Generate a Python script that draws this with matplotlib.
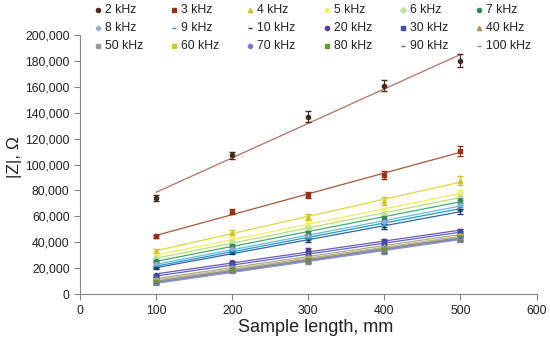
import numpy as np
import matplotlib
matplotlib.use("Agg")
import matplotlib.pyplot as plt
from matplotlib.ticker import FuncFormatter, MultipleLocator

plt.rcParams['font.family'] = ['Liberation Sans', 'DejaVu Sans']

lengths = [100, 200, 300, 400, 500]
labels = ["2 kHz", "3 kHz", "4 kHz", "5 kHz", "6 kHz", "7 kHz",
          "8 kHz", "9 kHz", "10 kHz", "20 kHz", "30 kHz", "40 kHz",
          "50 kHz", "60 kHz", "70 kHz", "80 kHz", "90 kHz", "100 kHz"]

z_2k = [74000, 107000, 137000, 161000, 180000]
z_3k = [44500, 63500, 76500, 92000, 110500]
z_4k = [33500, 47500, 59500, 72000, 87500]
z_5k = [29500, 43000, 54000, 65000, 78000]
z_6k = [27500, 40000, 51000, 62000, 75000]
z_7k = [25500, 37500, 47500, 58500, 72500]
z_8k = [23000, 35000, 45000, 55500, 69000]
z_9k = [21500, 33500, 43500, 53500, 67000]
z_10k = [20000, 32000, 42000, 52000, 64000]
z_20k = [14500, 24500, 34000, 41000, 48500]
z_30k = [13000, 23000, 32000, 39500, 47000]
z_40k = [11500, 21000, 29500, 37000, 46000]
z_50k = [10500, 20000, 27500, 35500, 45000]
z_60k = [10000, 19500, 27000, 35000, 44500]
z_70k = [9500, 19000, 26500, 34500, 44000]
z_80k = [9000, 18500, 26000, 34000, 43500]
z_90k = [8500, 18000, 25500, 33500, 43000]
z_100k = [8000, 17500, 25000, 33000, 42500]

err_2k = [2500, 3000, 4000, 4500, 5000]
err_3k = [1500, 2000, 2500, 3000, 4000]
err_4k = [1500, 2000, 2500, 3000, 3500]
err_other = [1000, 1200, 1500, 1800, 2000]

series = [z_2k, z_3k, z_4k, z_5k, z_6k, z_7k, z_8k, z_9k, z_10k,
          z_20k, z_30k, z_40k, z_50k, z_60k, z_70k, z_80k, z_90k, z_100k]
errors = [err_2k, err_3k, err_4k] + [err_other] * 15

marker_colors = ['#4a2a18', '#9a3015', '#d4c020', '#f6f070', '#bfe29a', '#2e8b57',
                 '#8aaee0', '#20a8a8', '#223366', '#5a3a9a', '#3a4fb0', '#a89050',
                 '#999999', '#cccc22', '#7a7acc', '#669933', '#8844cc', '#7788aa']
line_colors = ['#b8705e', '#a8583a', '#dada40', '#eeee60', '#b8e070', '#44aa77',
               '#66bbdd', '#2299cc', '#3366aa', '#7755bb', '#5566cc', '#b8a878',
               '#aaaaaa', '#cccc66', '#8888cc', '#88aa55', '#9966dd', '#8899bb']
markers = ['o', 's', '^', 'o', 'D', 'o', 'P', '_', '_', 'o', 's', '^',
           's', 's', 'o', 's', '_', '_']

W, H = 550, 340
fig = plt.figure(figsize=(W / 100, H / 100), dpi=100)
ax = fig.add_axes([0.1455, 0.135, 0.83, 0.762])

x = np.array(lengths, dtype=float)
for vals, errs, mc, lc, mk in zip(series, errors, marker_colors, line_colors, markers):
    y = np.array(vals, dtype=float)
    k, b = np.polyfit(x, y, 1)
    xs = np.array([x.min(), x.max()])
    ax.plot(xs, k * xs + b, color=lc, lw=0.9, zorder=2)
    ax.errorbar(x, y, yerr=errs, fmt=mk, color=mc, ms=3.0, mew=1.0,
                ecolor=mc, elinewidth=0.8, capsize=2, capthick=0.8, zorder=3)

ax.set_xlim(0, 600)
ax.set_ylim(0, 200000)
ax.xaxis.set_major_locator(MultipleLocator(100))
ax.yaxis.set_major_locator(MultipleLocator(20000))
ax.yaxis.set_major_formatter(FuncFormatter(lambda v, p: f"{int(v):,}"))
for s in ['top', 'right']:
    ax.spines[s].set_visible(False)
for s in ['left', 'bottom']:
    ax.spines[s].set_color('#868686')
    ax.spines[s].set_linewidth(0.8)
ax.tick_params(direction='out', length=4, width=0.8, color='#868686', labelsize=8.8, labelcolor='#222222')
ax.set_xlabel("Sample length, mm", fontsize=13, color='#222222')
ax.xaxis.set_label_coords(0.517, -0.095)
ax.set_ylabel("|Z|, Ω", fontsize=12.5, color='#222222')
ax.yaxis.set_label_coords(-0.128, 0.53)

# Legend laid out on a uniform grid (Excel style): 6 columns x 3 rows
leg = fig.add_axes([0, 0, 1, 1], facecolor='none')
leg.set_xlim(0, W)
leg.set_ylim(H, 0)
leg.axis('off')
col_x0, col_dx = 105, 76.2
row_y0, row_dy = 10, 18
for i, (lab, mc, mk) in enumerate(zip(labels, marker_colors, markers)):
    r, c = divmod(i, 6)
    tx = col_x0 + c * col_dx
    ty = row_y0 + r * row_dy
    leg.plot([tx - 7], [ty], linestyle='none', marker=mk, color=mc, ms=3, mew=1.0)
    leg.text(tx, ty, lab, fontsize=8.8, color='#222222', ha='left', va='center')

fig.savefig("out.png", dpi=100)
